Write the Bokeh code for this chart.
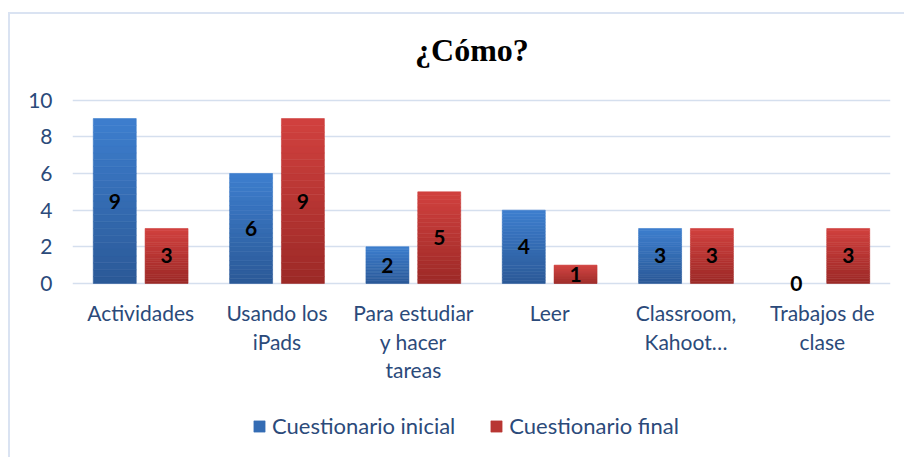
from bokeh.plotting import figure
from bokeh.models import FactorRange, Range1d, FixedTicker, Legend, LegendItem, ColumnDataSource
from bokeh.transform import dodge
from bokeh.core.properties import value
from bokeh.embed import file_html
from bokeh.resources import INLINE

title = "¿Cómo?"
categories = ["Actividades", "Usando los\niPads", "Para estudiar\ny hacer\ntareas", "Leer",
              "Classroom,\nKahoot…", "Trabajos de\nclase"]
inicial = [9, 6, 2, 4, 3, 0]
final = [3, 9, 5, 1, 3, 3]
series = ["Cuestionario inicial", "Cuestionario final"]
y_ticks = [0, 2, 4, 6, 8, 10]

BLUE_TOP, BLUE_BOT = (61, 126, 206), (43, 89, 151)
RED_TOP, RED_BOT = (209, 65, 62), (156, 41, 39)
NAVY = "#2b4a7a"
FONT = "Lato"
N_STEPS = 24
OFFSET = 0.19
BAR_W = 0.315


def hexcol(c):
    return "#%02x%02x%02x" % tuple(int(round(v)) for v in c)


def gradient_source(values, top_col, bot_col):
    cats, bottoms, tops, colors = [], [], [], []
    for cat, v in zip(categories, values):
        if v <= 0:
            continue
        for k in range(N_STEPS):
            f = (k + 0.5) / N_STEPS  # 0 bottom -> 1 top
            col = tuple(b + (t - b) * f for t, b in zip(top_col, bot_col))
            cats.append(cat)
            bottoms.append(v * k / N_STEPS)
            tops.append(v * (k + 1) / N_STEPS)
            colors.append(hexcol(col))
    return ColumnDataSource(dict(cat=cats, bottom=bottoms, top=tops, color=colors))


label_source = ColumnDataSource(dict(
    cat=categories,
    inicial_mid=[v / 2 for v in inicial],
    final_mid=[v / 2 for v in final],
    inicial_lbl=[str(v) for v in inicial],
    final_lbl=[str(v) for v in final],
))

# the frame also spans the title, category labels and legend area
p = figure(x_range=FactorRange(factors=categories), y_range=Range1d(-9.5, 14.68),
           frame_width=818, frame_height=443, output_backend="svg", toolbar_location=None,
           min_border_left=62, min_border_right=14, min_border_top=0, min_border_bottom=0)

p.styles = {"border-left": "2px solid #dae3f2", "border-top": "2px solid #dae3f2",
            "margin-left": "8px", "margin-top": "12px"}

# title
p.text(x=[2.93], y=[12.72], text=[title], text_align="center", text_baseline="middle",
       text_font=value("Liberation Serif"), text_font_size="32px", text_font_style="bold",
       text_color="black")

s1 = gradient_source(inicial, BLUE_TOP, BLUE_BOT)
s2 = gradient_source(final, RED_TOP, RED_BOT)
r1 = p.vbar(x=dodge("cat", -OFFSET, range=p.x_range), top="top", bottom="bottom", width=BAR_W,
            source=s1, fill_color="color", line_color="color", line_width=0.6)
r2 = p.vbar(x=dodge("cat", OFFSET, range=p.x_range), top="top", bottom="bottom", width=BAR_W,
            source=s2, fill_color="color", line_color="color", line_width=0.6)

p.text(x=dodge("cat", -OFFSET, range=p.x_range), y="inicial_mid", text="inicial_lbl", source=label_source,
       text_align="center", text_baseline="middle", text_font=value(FONT),
       text_font_size="21px", text_font_style="bold", text_color="black")
p.text(x=dodge("cat", OFFSET, range=p.x_range), y="final_mid", text="final_lbl", source=label_source,
       text_align="center", text_baseline="middle", text_font=value(FONT),
       text_font_size="21px", text_font_style="bold", text_color="black")

# category labels under the bars
p.text(x="cat", y=-0.93, text="cat", source=label_source, text_align="center",
       text_baseline="top", text_font=value(FONT), text_font_size="21px",
       text_color=NAVY, text_line_height=1.13)

p.yaxis.ticker = FixedTicker(ticks=y_ticks)
p.ygrid.ticker = FixedTicker(ticks=y_ticks)
p.yaxis.axis_line_color = None
p.yaxis.major_tick_line_color = None
p.yaxis.minor_tick_line_color = None
p.yaxis.major_label_text_font = FONT
p.yaxis.major_label_text_font_size = "21px"
p.yaxis.major_label_text_color = NAVY
p.yaxis.major_label_standoff = 14

p.xaxis.visible = False

p.xgrid.grid_line_color = None
p.ygrid.grid_line_color = "#d5dfee"
p.ygrid.grid_line_width = 1.5
p.outline_line_color = None

legend = Legend(items=[LegendItem(label=series[0], renderers=[r1], index=N_STEPS // 2),
                       LegendItem(label=series[1], renderers=[r2], index=N_STEPS // 2)],
                orientation="horizontal", location=(180, 18),
                label_text_font=FONT, label_text_font_size="22px", label_text_color=NAVY,
                glyph_width=14, glyph_height=14, spacing=34, border_line_color=None,
                background_fill_alpha=0, label_standoff=6, margin=0, padding=0)
p.add_layout(legend)

open("out.html", "w").write(file_html(p, INLINE))
